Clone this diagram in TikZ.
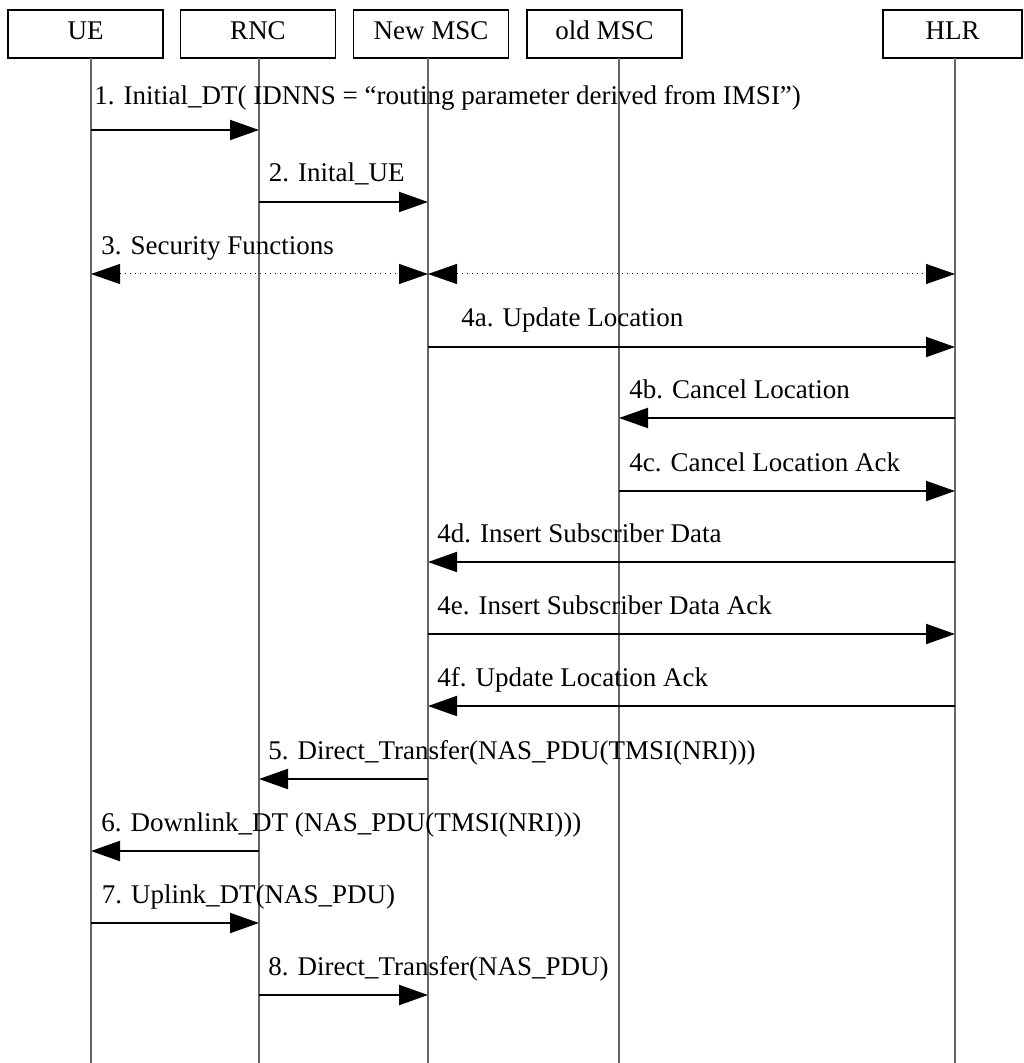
\documentclass[tikz,border=0pt]{standalone}
\usepackage{fontspec}
\setmainfont{Liberation Serif}
\usetikzlibrary{arrows.meta}
\tikzset{
    every node/.style={font=\fontsize{13.5}{16}\selectfont},
    entity/.style={draw, rectangle, line width=0.75pt, minimum width=77.5pt, minimum height=24pt, text height=9pt, text depth=3.7pt},
    lifeline/.style={draw=black!60, line width=0.6pt},
    msg/.style={line width=1pt, -{Triangle[length=14.5pt,width=10pt]}},
    msgdot/.style={dotted, line width=0.5pt, {Triangle[length=14.5pt,width=10pt]}-{Triangle[length=14.5pt,width=10pt]}},
    lbl/.style={anchor=base west, inner sep=0pt}
}

\begin{document}
\begin{tikzpicture}[x=0.5pt, y=-0.5pt]
            \useasboundingbox (0,0) rectangle (1023,1063);
            % entities
            \node[entity] (ueBox) at (85.5,34) {UE};
            \node[entity] (rncBox) at (258,34) {RNC};
            \node[entity] (nmscBox) at (431,34) {New MSC};
            \node[entity] (omscBox) at (604.5,34) {old MSC};
            \node[entity, minimum width=69.5pt] (hlrBox) at (952.5,34) {HLR};
            
            % lifelines
            \coordinate (ue) at (91,58);
            \coordinate (rnc) at (259,58);
            \coordinate (nmsc) at (428,58);
            \coordinate (omsc) at (619,58);
            \coordinate (hlr) at (955,58);
            \foreach \l in {ue,rnc,nmsc,omsc,hlr}
                \draw[lifeline] (\l) -- (\l |- 0,1063);
            
            % messages
            \draw[msg] (ue |- 0,130) -- (rnc |- 0,130);
            \node[lbl] (m1) at (94,105) {1. Initial\_DT( IDNNS = “routing parameter derived from IMSI”)};
            \draw[msg] (rnc |- 0,202) -- (nmsc |- 0,202);
            \node[lbl] (m2) at (268.5,182) {2. Inital\_UE};
            \draw[msgdot] (ue |- 0,274) -- (nmsc |- 0,274);
            \draw[msgdot] (nmsc |- 0,274) -- (hlr |- 0,274);
            \node[lbl] (m3) at (101,255) {3. Security Functions};
            \draw[msg] (nmsc |- 0,347) -- (hlr |- 0,347);
            \node[lbl] (m4a) at (461,327) {4a. Update Location};
            \draw[msg] (hlr |- 0,418) -- (omsc |- 0,418);
            \node[lbl] (m4b) at (629,398) {4b. Cancel Location};
            \draw[msg] (omsc |- 0,491) -- (hlr |- 0,491);
            \node[lbl] (m4c) at (629,471) {4c. Cancel Location Ack};
            \draw[msg] (hlr |- 0,562) -- (nmsc |- 0,562);
            \node[lbl] (m4d) at (437,542) {4d. Insert Subscriber Data};
            \draw[msg] (nmsc |- 0,634) -- (hlr |- 0,634);
            \node[lbl] (m4e) at (437,614) {4e. Insert Subscriber Data Ack};
            \draw[msg] (hlr |- 0,706) -- (nmsc |- 0,706);
            \node[lbl] (m4f) at (437,686) {4f. Update Location Ack};
            \draw[msg] (nmsc |- 0,779) -- (rnc |- 0,779);
            \node[lbl] (m5) at (268,759) {5. Direct\_Transfer(NAS\_PDU(TMSI(NRI)))};
            \draw[msg] (rnc |- 0,851) -- (ue |- 0,851);
            \node[lbl] (m6) at (101,831) {6. Downlink\_DT (NAS\_PDU(TMSI(NRI)))};
            \draw[msg] (ue |- 0,923) -- (rnc |- 0,923);
            \node[lbl] (m7) at (101.5,903) {7. Uplink\_DT(NAS\_PDU)};
            \draw[msg] (rnc |- 0,995) -- (nmsc |- 0,995);
            \node[lbl] (m8) at (268,975) {8. Direct\_Transfer(NAS\_PDU)};
        \end{tikzpicture}
\end{document}
